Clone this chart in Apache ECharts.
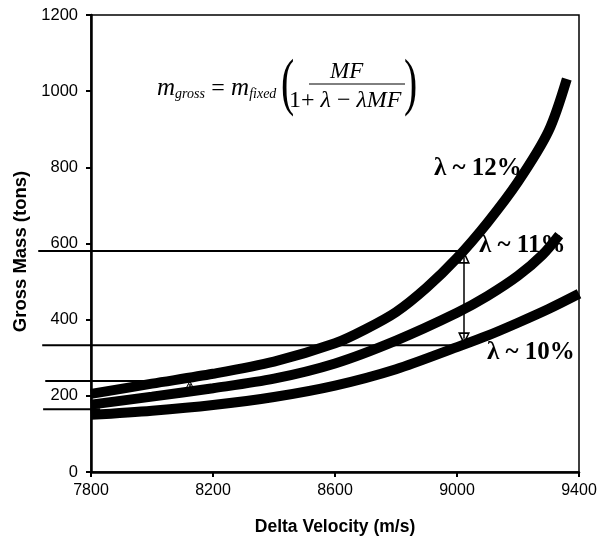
<!DOCTYPE html>
<html>
<head>
<meta charset="utf-8">
<script src="https://cdn.jsdelivr.net/npm/echarts@6/dist/echarts.min.js"></script>
<style>
  html, body { margin: 0; padding: 0; background: #fff; }
  #main { width: 606px; height: 541px; }
</style>
</head>
<body>
<div id="main"></div>
<script>
// curve data (delta velocity m/s, gross mass tons)
var vel12 = [7800, 8000, 8200, 8400, 8600, 8700, 8800, 8900, 9000, 9100, 9200, 9300, 9360];
var mass12 = [205, 232, 258, 290, 338, 375, 420, 484, 562, 655, 762, 895, 1032];

var vel11 = [7800, 8000, 8200, 8400, 8600, 8800, 9000, 9100, 9200, 9280, 9335];
var mass11 = [177, 198, 220, 245, 285, 345, 418, 462, 515, 570, 622];

var vel10 = [7800, 8000, 8200, 8400, 8600, 8800, 9000, 9100, 9200, 9300, 9400];
var mass10 = [150, 161, 176, 197, 227, 270, 328, 358, 392, 428, 468];

// horizontal guide lines: level, start, end
var guideLevel = [580, 333, 239, 165];
var guideFrom = [7627, 7640, 7650, 7643];
var guideTo = [9015, 9007, 8124, 7830];

var yTicks = [0, 200, 400, 600, 800, 1000, 1200];
var xTicks = [7800, 8200, 8600, 9000, 9400];

function pairs(xs, ys) {
  return xs.map(function (x, i) { return [x, ys[i]]; });
}

var hollowTri = 'path://M5,0 L10,10 L0,10 Z M5,3.2 L2,8.6 L8,8.6 Z';

var myChart = echarts.init(document.getElementById('main'));

var series = [];

// arrows between the guide lines
series.push({
  type: 'line',
  data: [],
  z: 1,
  markLine: {
    silent: true,
    symbol: [hollowTri, hollowTri],
    symbolSize: [12, 13],
    label: { show: false },
    lineStyle: { color: '#000', width: 1.5, type: 'solid' },
    data: [
      [{ coord: [9023, 350] }, { coord: [9023, 564] }],
      [{ coord: [8124, 200], symbol: 'none' }, { coord: [8124, 231], symbolSize: [8, 8] }]
    ]
  }
});

[[vel12, mass12], [vel11, mass11], [vel10, mass10]].forEach(function (c) {
  series.push({
    type: 'line',
    data: pairs(c[0], c[1]),
    smooth: 0.3,
    symbol: 'none',
    z: 3,
    lineStyle: { color: '#000', width: 10, cap: 'butt' },
    silent: true
  });
});

var serif = '"Liberation Serif", "Times New Roman", serif';

var texts = [
  // formula
  {
    type: 'text', left: 157, top: 76, z: 1,
    style: {
      text: '{m|m}{s|gross} {e|=} {m|m}{s|fixed}',
      rich: {
        m: { fontFamily: serif, fontStyle: 'italic', fontSize: 25, fill: '#000' },
        s: { fontFamily: serif, fontStyle: 'italic', fontSize: 14, fill: '#000', padding: [12, 0, 0, 0] },
        e: { fontFamily: serif, fontSize: 24, fill: '#000', padding: [0, 3, 0, 3] }
      }
    }
  },
  { type: 'text', x: 281, y: 54, scaleX: 0.62, z: 1, style: { x: 0, y: 0, text: '(', verticalAlign: 'top', fontFamily: serif, fontSize: 64, fill: '#000' } },
  { type: 'text', x: 404, y: 54, scaleX: 0.62, z: 1, style: { x: 0, y: 0, text: ')', verticalAlign: 'top', fontFamily: serif, fontSize: 64, fill: '#000' } },
  { type: 'text', left: 330, top: 60, z: 1, style: { text: 'MF', fontFamily: serif, fontStyle: 'italic', fontSize: 23, fill: '#000' } },
  { type: 'line', z: 1, shape: { x1: 309, y1: 84, x2: 405, y2: 84 }, style: { stroke: '#000', lineWidth: 1 } },
  {
    type: 'text', left: 289, top: 89, z: 1,
    style: {
      text: '1+ {i|λ} − {i|λMF}',
      fontFamily: serif, fontSize: 24, fill: '#000',
      rich: { i: { fontFamily: serif, fontStyle: 'italic', fontSize: 24, fill: '#000' } }
    }
  },
  // curve labels
  { type: 'text', left: 434, top: 156, z: 1, style: { text: 'λ ~ 12%', fontFamily: serif, fontWeight: 'bold', fontSize: 25, fill: '#000' } },
  { type: 'text', left: 479, top: 233, z: 1, style: { text: 'λ ~ 11%', fontFamily: serif, fontWeight: 'bold', fontSize: 25, fill: '#000' } },
  { type: 'text', left: 487, top: 340, z: 1, style: { text: 'λ ~ 10%', fontFamily: serif, fontWeight: 'bold', fontSize: 25, fill: '#000' } }
];

var option = {
  animation: false,
  backgroundColor: '#fff',
  grid: {
    left: 91, right: 27, top: 15, bottom: 68,
    show: true, borderColor: '#000', borderWidth: 1.5
  },
  xAxis: {
    type: 'value',
    min: 7800, max: 9400, interval: 400,
    name: 'Delta Velocity (m/s)',
    nameLocation: 'middle',
    nameGap: 46,
    nameTextStyle: { fontFamily: 'Liberation Sans', fontWeight: 'bold', fontSize: 17.5, color: '#000' },
    axisLine: { lineStyle: { color: '#000', width: 2.5 } },
    axisTick: { show: true, inside: false, length: 5, lineStyle: { color: '#000', width: 2 } },
    axisLabel: {
      color: '#000', fontFamily: 'Liberation Sans', fontSize: 16, margin: 11,
      formatter: function (v) { return xTicks.indexOf(v) >= 0 ? String(v) : ''; }
    },
    splitLine: { show: false }
  },
  yAxis: {
    type: 'value',
    min: 0, max: 1200, interval: 200,
    name: 'Gross Mass (tons)',
    nameLocation: 'middle',
    nameGap: 56,
    nameTextStyle: { fontFamily: 'Liberation Sans', fontWeight: 'bold', fontSize: 18.5, color: '#000', padding: [0, 16, 0, 0] },
    axisLine: { lineStyle: { color: '#000', width: 2.5 } },
    axisTick: { show: true, inside: false, length: 5, lineStyle: { color: '#000', width: 2 } },
    axisLabel: {
      color: '#000', fontFamily: 'Liberation Sans', fontSize: 16.5, margin: 13,
      formatter: function (v) { return yTicks.indexOf(v) >= 0 ? String(v) : ''; }
    },
    splitLine: { show: false }
  },
  series: series
};

myChart.setOption(option);

// guide lines run past the left axis, so place them with the chart's own scale
var guides = guideLevel.map(function (lv, i) {
  var a = myChart.convertToPixel({ gridIndex: 0 }, [guideFrom[i], lv]);
  var b = myChart.convertToPixel({ gridIndex: 0 }, [guideTo[i], lv]);
  return {
    type: 'line', z: 1, silent: true,
    shape: { x1: a[0], y1: a[1], x2: b[0], y2: b[1] },
    style: { stroke: '#000', lineWidth: 2 }
  };
});

myChart.setOption({ graphic: guides.concat(texts) });
</script>
</body>
</html>
